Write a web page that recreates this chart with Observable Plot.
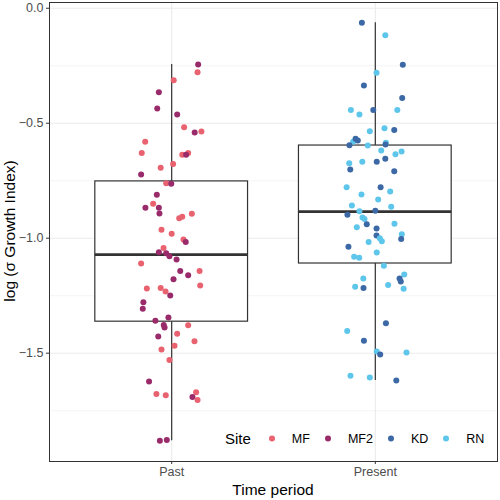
<!DOCTYPE html>
<html><head><meta charset="utf-8">
<script src="https://cdn.jsdelivr.net/npm/d3@7"></script>
<script src="https://cdn.jsdelivr.net/npm/@observablehq/plot@0.6"></script>
<style>
body{margin:0;background:#fff;font-family:"Liberation Sans",Arial,sans-serif}
#wrap{position:relative;width:500px;height:500px}
.t{position:absolute;white-space:nowrap;color:#000}
.ytitle{left:10px;top:231px;font-size:15.5px;transform:translate(-50%,-50%) rotate(-90deg);transform-origin:center}
.xtitle{left:273px;top:490px;font-size:15.5px;transform:translate(-50%,-50%)}
.legend{position:absolute;left:225px;top:438px;transform:translateY(-50%);display:flex;align-items:center;font-size:12.5px}
.legend .ttl{font-size:15px;margin-right:18px}
.legend .sw{width:6px;height:6px;border-radius:50%;display:inline-block;margin-right:17px}
.legend .lb{margin-right:15px}
</style>
</head><body><div id="wrap"></div>
<script>
// ---- data ----
const periods = ["Past", "Present"];
const sites = ["MF", "MF2", "KD", "RN"];
const siteColors = ["#E9626F", "#9A2B6B", "#3C68A5", "#5DC6EA"];
const yTicks = [-1.5, -1.0, -0.5, 0.0];
const yMinorTicks = [-1.75, -1.25, -0.75, -0.25];

// box statistics: [lower whisker, Q1, median, Q3, upper whisker]
const pastBox = [-1.881, -1.363, -1.071, -0.753, -0.245];
const presentBox = [-1.619, -1.110, -0.884, -0.597, -0.063];

// Past observations
const pastValues = [-0.245,-0.278,-0.313,-0.365,-0.436,-0.462,-0.517,-0.540,-0.536,-0.581,-0.630,-0.637,-0.630,-0.637,-0.677,-0.694,-0.723,-0.761,-0.763,-0.811,-0.850,-0.868,-0.868,-0.893,-0.894,-0.913,-0.907,-0.963,-0.981,-1.006,-1.016,-1.043,-1.061,-1.065,-1.078,-1.093,-1.110,-1.143,-1.161,-1.143,-1.178,-1.206,-1.219,-1.216,-1.232,-1.249,-1.278,-1.307,-1.359,-1.345,-1.377,-1.388,-1.378,-1.416,-1.427,-1.448,-1.468,-1.484,-1.530,-1.623,-1.678,-1.683,-1.670,-1.690,-1.704,-1.881,-1.877];
const pastJitter = [0.130,0.127,0.010,-0.063,-0.071,0.027,0.061,0.113,0.146,-0.130,-0.147,0.052,0.081,0.071,0.007,-0.054,-0.150,-0.027,-0.002,-0.073,-0.091,-0.129,-0.063,-0.060,0.099,0.037,0.052,-0.050,0.000,0.058,0.069,-0.040,-0.063,-0.027,-0.011,0.024,-0.150,0.042,0.081,0.137,0.009,0.140,-0.122,-0.054,-0.030,-0.007,-0.139,-0.142,-0.080,-0.016,-0.039,-0.035,0.081,0.027,-0.066,0.112,0.014,-0.050,-0.011,-0.111,-0.075,-0.029,0.120,0.102,0.127,-0.058,-0.024];
const pastSite = ["MF2","MF","MF","MF2","MF2","MF2","MF","MF2","MF","MF","MF","MF","MF","MF2","MF","MF","MF2","MF","MF2","MF2","MF","MF2","MF2","MF2","MF","MF","MF","MF","MF","MF","MF2","MF","MF2","MF2","MF2","MF2","MF","MF2","MF2","MF","MF2","MF","MF","MF","MF","MF2","MF2","MF2","MF2","MF2","MF2","MF2","MF","MF","MF2","MF","MF","MF","MF","MF2","MF","MF","MF","MF2","MF","MF2","MF2"];

// Present observations
const presentValues = [-0.063,-0.117,-0.246,-0.280,-0.336,-0.390,-0.442,-0.462,-0.443,-0.442,-0.535,-0.522,-0.529,-0.580,-0.567,-0.575,-0.596,-0.597,-0.585,-0.593,-0.619,-0.623,-0.635,-0.655,-0.668,-0.674,-0.667,-0.701,-0.709,-0.778,-0.778,-0.810,-0.797,-0.832,-0.858,-0.863,-0.883,-0.881,-0.898,-0.910,-0.917,-0.939,-0.952,-0.958,-0.937,-0.988,-0.983,-1.003,-1.000,-1.013,-1.017,-1.037,-1.062,-1.081,-1.085,-1.120,-1.158,-1.175,-1.188,-1.175,-1.211,-1.216,-1.203,-1.220,-1.370,-1.403,-1.446,-1.493,-1.506,-1.497,-1.598,-1.606,-1.619];
const presentJitter = [-0.066,0.049,0.135,0.006,-0.056,0.132,-0.120,-0.078,-0.010,0.108,-0.027,0.045,0.093,-0.109,-0.097,-0.086,-0.127,-0.037,0.052,0.050,0.029,0.129,0.099,0.049,0.007,-0.128,-0.064,-0.123,0.093,-0.141,0.026,-0.068,0.073,0.014,-0.115,0.078,-0.078,0.000,-0.137,-0.063,-0.053,-0.042,-0.091,0.006,0.094,0.006,0.130,0.127,0.022,0.032,-0.033,-0.132,0.007,-0.104,-0.079,0.042,0.142,0.119,0.125,-0.059,-0.099,-0.058,0.063,0.139,0.052,-0.138,-0.056,0.007,0.024,0.153,-0.122,-0.027,0.103];
const presentSite = ["KD","RN","KD","RN","KD","KD","RN","RN","KD","RN","RN","RN","KD","RN","KD","KD","KD","RN","RN","KD","RN","RN","RN","KD","KD","RN","RN","KD","KD","RN","KD","RN","RN","RN","RN","RN","RN","KD","KD","RN","RN","KD","RN","KD","RN","KD","RN","KD","RN","RN","RN","KD","RN","RN","RN","RN","RN","KD","KD","RN","RN","KD","RN","RN","KD","RN","KD","RN","KD","RN","RN","RN","KD"];

// ---- tables built from the arrays ----
const points = [
  ...pastValues.map((v, i) => ({pos: 1, jitter: pastJitter[i], value: v, site: pastSite[i]})),
  ...presentValues.map((v, i) => ({pos: 2, jitter: presentJitter[i], value: v, site: presentSite[i]}))
];
const boxes = [pastBox, presentBox].map((b, i) => ({pos: i + 1, lo: b[0], q1: b[1], med: b[2], q3: b[3], hi: b[4]}));
const HW = 0.375; // half box width (category units)

const chart = Plot.plot({
  width: 500, height: 500,
  marginLeft: 49, marginRight: 3, marginTop: 2, marginBottom: 39,
  style: {fontFamily: "'Liberation Sans', Arial, sans-serif", background: "#fff"},
  x: {type: "linear", domain: [0.4, 2.6], axis: null},
  y: {domain: [-1.971, 0.025], axis: null},
  color: {domain: sites, range: siteColors},
  marks: [
    Plot.ruleY(yMinorTicks, {stroke: "#EFEFEF", strokeWidth: 0.6}),
    Plot.ruleY(yTicks, {stroke: "#EBEBEB", strokeWidth: 1.1}),
    Plot.ruleX([1, 2], {stroke: "#EBEBEB", strokeWidth: 1.1}),
    Plot.ruleX(boxes, {x: "pos", y1: "q3", y2: "hi", stroke: "#333", strokeWidth: 1.2}),
    Plot.ruleX(boxes, {x: "pos", y1: "lo", y2: "q1", stroke: "#333", strokeWidth: 1.2}),
    Plot.rect(boxes, {x1: d => d.pos - HW, x2: d => d.pos + HW, y1: "q1", y2: "q3", fill: "white", stroke: "#333", strokeWidth: 1.2}),
    Plot.ruleY(boxes, {x1: d => d.pos - HW, x2: d => d.pos + HW, y: "med", stroke: "#333", strokeWidth: 2.8}),
    Plot.dot(points, {x: d => d.pos + d.jitter, y: "value", fill: "site", r: 3, stroke: "none"}),
    Plot.frame({stroke: "#333", strokeWidth: 1}),
    Plot.axisX([1, 2], {tickFormat: d => periods[d - 1], tickSize: 3, tickPadding: 3, fontSize: 12.5, color: "#4D4D4D", stroke: "#333", label: null}),
    Plot.axisY(yTicks, {tickFormat: d3.format(".1f"), tickSize: 3, tickPadding: 3, fontSize: 12.5, color: "#4D4D4D", stroke: "#333", label: null})
  ]
});

const wrap = document.getElementById("wrap");
wrap.appendChild(chart);

const yt = document.createElement("div");
yt.className = "t ytitle"; yt.textContent = "log (σ Growth Index)";
wrap.appendChild(yt);
const xt = document.createElement("div");
xt.className = "t xtitle"; xt.textContent = "Time period";
wrap.appendChild(xt);

const lg = document.createElement("div");
lg.className = "legend";
const ttl = document.createElement("span");
ttl.className = "ttl"; ttl.textContent = "Site";
lg.appendChild(ttl);
sites.forEach((s, i) => {
  const sw = document.createElement("span");
  sw.className = "sw"; sw.style.background = siteColors[i];
  lg.appendChild(sw);
  const lb = document.createElement("span");
  lb.className = "lb"; lb.textContent = s;
  lg.appendChild(lb);
});
wrap.appendChild(lg);
</script>
</body></html>
